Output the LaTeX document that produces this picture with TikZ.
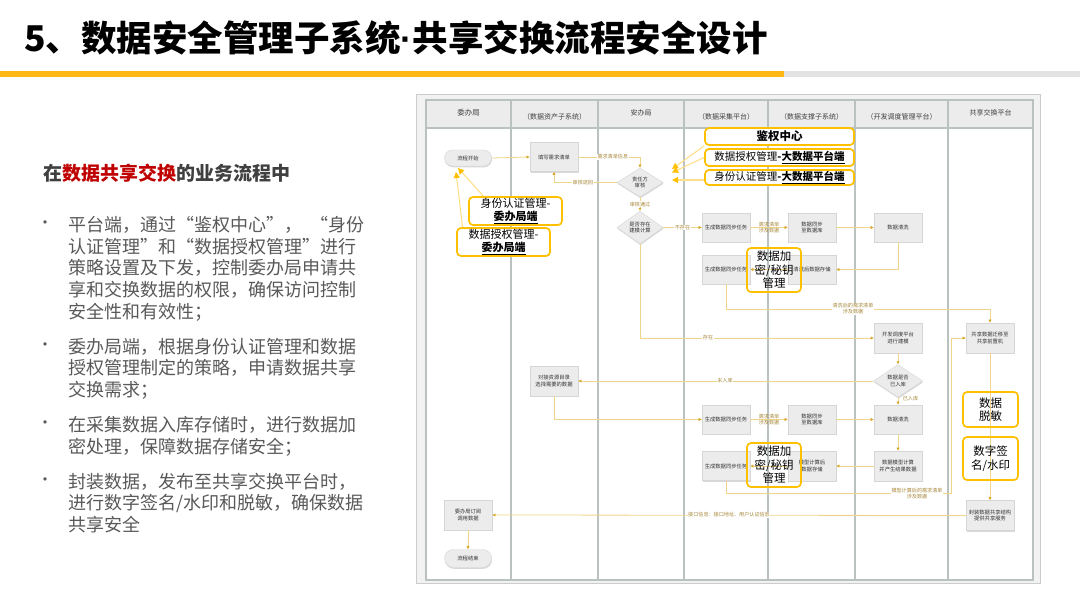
\documentclass[tikz,border=0pt]{standalone}
\usepackage{fontspec}
\setmainfont{Noto Sans CJK SC}
\newfontfamily\latinsans{Liberation Sans}
\usetikzlibrary{shapes.geometric,shapes.misc,arrows.meta,shadows}
\definecolor{barc}{HTML}{FDB913}
\definecolor{bargray}{HTML}{E3E3E3}
\definecolor{gold}{HTML}{FFC000}
\definecolor{callline}{HTML}{FFE08A}
\definecolor{connc}{HTML}{F0D48A}
\definecolor{arrc}{HTML}{D8A520}
\definecolor{labc}{HTML}{A8883A}
\definecolor{boxfill}{HTML}{ECECEC}
\definecolor{boxdraw}{HTML}{D6D6D6}
\definecolor{boxtext}{HTML}{333333}
\definecolor{lanec}{HTML}{B9C1C1}
\definecolor{hdrfill}{HTML}{ECECEC}
\definecolor{outerfill}{HTML}{F2F2F2}
\definecolor{redc}{HTML}{C00000}
\definecolor{headc}{HTML}{404040}
\definecolor{bodyc}{HTML}{595959}
\begin{document}
\begin{tikzpicture}[x=1pt,y=-1pt,
  box/.style={draw=boxdraw, fill=boxfill, minimum width=48pt, minimum height=29pt, inner sep=0.5pt, align=center,
    font=\fontsize{5.3}{6.6}\selectfont, text=boxtext,
    drop shadow={shadow xshift=0.5pt, shadow yshift=-1.3pt, fill=black!30}},
  pill/.style={box, rounded rectangle, minimum height=16pt},
  dia/.style={box, diamond, minimum width=46pt, minimum height=29pt, inner sep=0pt},
  conn/.style={draw=connc, line width=0.8pt, -{Latex[length=3.2pt,width=3.2pt,color=arrc]}},
  lab/.style={font=\fontsize{5.1}{6}\selectfont, text=labc, fill=white, inner sep=0.6pt, align=center},
  call/.style={draw=gold, line width=1.7pt, rounded corners=4pt, fill=white, align=center, inner sep=0pt, text=black},
  callt/.style={call, fill=none},
  callarr/.style={draw=callline, line width=1.1pt, -{Triangle[length=6pt,width=6pt,color=gold]}},
  lane/.style={draw=lanec, line width=1.5pt},
  hdr/.style={font=\fontsize{7}{8}\selectfont, text=black!75},
  body/.style={anchor=west, font=\fontsize{18}{21}\selectfont, text=bodyc, inner sep=0pt},
  bul/.style={anchor=center, font=\fontsize{16}{18}\selectfont, text=bodyc, inner sep=0pt}
]
\useasboundingbox (0,0) rectangle (1080,608);
\fill[white] (0,0) rectangle (1080,608);

% title
\node[anchor=west, inner sep=0pt, font=\fontsize{35.5}{40}\bfseries\selectfont, text=black] (title) at (24,38) {5、数据安全管理子系统{\latinsans\bfseries ·}共享交换流程安全设计};
\fill[barc] (0,71) rectangle (784,77);
\fill[bargray] (784,71) rectangle (1080,77);

% left text
\node[anchor=west, inner sep=0pt, font=\fontsize{19}{22}\bfseries\selectfont, text=headc] (heading) at (43,173)
  {在\textcolor{redc}{数据共享交换}的业务流程中};

\node[bul] (b1) at (45,225) {•};
\node[body] (p1l1) at (68,225) {平台端，通过“鉴权中心”，\hspace{8pt}“身份};
\node[body] (p1l2) at (68,247) {认证管理”和“数据授权管理”进行};
\node[body] (p1l3) at (68,268) {策略设置及下发，控制委办局申请共};
\node[body] (p1l4) at (68,290) {享和交换数据的权限，确保访问控制};
\node[body] (p1l5) at (68,312) {安全性和有效性；};
\node[bul] (b2) at (45,347) {•};
\node[body] (p2l1) at (68,347) {委办局端，根据身份认证管理和数据};
\node[body] (p2l2) at (68,368) {授权管理制定的策略，申请数据共享};
\node[body] (p2l3) at (68,390) {交换需求；};
\node[bul] (b3) at (45,425) {•};
\node[body] (p3l1) at (68,425) {在采集数据入库存储时，进行数据加};
\node[body] (p3l2) at (68,447) {密处理，保障数据存储安全；};
\node[bul] (b4) at (45,482) {•};
\node[body] (p4l1) at (68,482) {封装数据，发布至共享交换平台时，};
\node[body] (p4l2) at (68,503) {进行数字签名/水印和脱敏，确保数据};
\node[body] (p4l3) at (68,525) {共享安全};

% diagram frame
\filldraw[fill=outerfill, draw=black!20, line width=0.6pt] (416,94) rectangle (1040,583);
\filldraw[fill=white, draw=lanec, line width=1.2pt] (426,100) rectangle (1033,580);
\filldraw[fill=hdrfill, draw=lanec, line width=1.2pt] (426,100) rectangle (1033,128);
\foreach \xx in {511,598,684,768,855,948} {\draw[lane] (\xx,100) -- (\xx,580);}
\node[hdr, font=\fontsize{7.5}{8}\selectfont] (h1) at (468.5,113) {委办局};
\node[hdr] (h2) at (554.5,117) {（数据资产子系统）};
\node[hdr] (h3) at (641,113) {安办局};
\node[hdr] (h4) at (726,117) {（数据采集平台）};
\node[hdr] (h5) at (811.5,117) {（数据支撑子系统）};
\node[hdr] (h6) at (901.5,117) {（开发调度管理平台）};
\node[hdr] (h7) at (990.5,113) {共享交换平台};

% nodes
\node[pill] (start) at (468,158) {流程开始};
\node[box] (fill) at (554,157) {填写需求清单};
\node[dia] (d1) at (640,182.5) {责任方\\审核};
\node[dia, minimum height=31pt] (d2) at (640,227.5) {是否存在\\建模计算};
\node[box] (g1) at (726,227.5) {生成数据同步任务};
\node[box] (s1) at (812,227.5) {数据同步\\至数据库};
\node[box] (c1) at (898,227.5) {数据清洗};
\node[box] (st1) at (812,269.5) {清洗后数据存储};
\node[box] (g2) at (726,269.5) {生成数据同步任务};
\node[box, minimum height=30pt] (m) at (898,338) {开发调度平台\\进行建模};
\node[box, minimum height=30pt] (sh) at (990,338) {共享数据迁移至\\共享前置机};
\node[dia, minimum width=49pt, minimum height=28pt] (d3) at (898,381) {数据是否\\已入库};
\node[box, minimum height=30pt] (r) at (554,381) {对接资源目录\\选择需要的数据};
\node[box] (g3) at (726,419.5) {生成数据同步任务};
\node[box] (s3) at (812,419.5) {数据同步\\至数据库};
\node[box] (c3) at (898,419.5) {数据清洗};
\node[box, minimum height=30pt] (mc) at (898,466) {数据模型计算\\并产生结果数据};
\node[box, minimum height=30pt] (ms) at (812,466) {模型计算后\\数据存储};
\node[box] (g4) at (726,466) {生成数据同步任务};
\node[box, minimum height=30pt] (pk) at (990,515.5) {封装数据共享结构\\提供共享服务};
\node[box, minimum height=30pt] (sub) at (468,515) {委办局订阅\\调用数据};
\node[pill, minimum height=18pt] (end) at (468,558.5) {流程结束};

% connectors
\draw[conn] (start.east) -- (fill.west);
\draw[conn] (fill.east) -| (d1.north) node[lab, pos=0.28] {需求清单信息};
\draw[conn] (d1.west) -| (fill.south) node[lab, pos=0.27] {审核退回};
\draw[conn] (d1.south) -- (d2.north) node[lab, midway] {审核通过};
\draw[conn] (d2.east) -- (g1.west) node[lab, midway] {不存在};
\draw[conn] (g1.east) -- (s1.west) node[lab, midway, fill=none] {需求清单\\涉及数据};
\draw[conn] (s1.east) -- (c1.west);
\draw[conn] (c1.south) |- (st1.east);
\draw[conn] (st1.west) -- (g2.east);
\draw[conn] (g2.south) -- ++(0,25) -| (sh.north);
\node[lab] (l1) at (853,309) {清洗后的需求清单\\涉及数据};
\draw[conn] (d2.south) |- (m.west);
\node[lab] (l2) at (708,338) {存在};
\draw[conn] (m.south) -- (d3.north);
\draw[conn] (d3.west) -- (r.east);
\node[lab] (l3) at (725,381) {未入库};
\draw[conn] (d3.south) -- (c3.north);
\node[lab, anchor=west, fill=none] (l4) at (902,399) {已入库};
\draw[conn] (r.south) |- (g3.west);
\draw[conn] (g3.east) -- (s3.west) node[lab, midway, fill=none] {需求清单\\涉及数据};
\draw[conn] (s3.east) -- (c3.west);
\draw[conn] (c3.south) -- (mc.north);
\draw[conn] (mc.west) -- (ms.east);
\draw[conn] (ms.west) -- (g4.east);
\draw[conn] (g4.south) -- ++(0,13) -| ([xshift=-14pt]sh.west) -- (sh.west);
\node[lab] (l5) at (917,494) {模型计算后的需求清单\\涉及数据};
\draw[conn] (sh.south) -- (pk.north);
\draw[conn] (pk.west) -- (sub.east);
\node[lab] (l6) at (729,515) {接口信息：接口地址、用户认证信息};
\draw[conn] (sub.south) -- (end.north);

% callouts
\node[call, minimum width=149pt, minimum height=17pt, font=\fontsize{11.5}{13}\bfseries\selectfont] (jq) at (779.5,136.5) {鉴权中心};
\node[call, minimum width=149pt, minimum height=17pt, font=\fontsize{10.5}{12}\selectfont] (sq) at (779.5,157.5) {数据授权管理\textbf{-\underline{大数据平台端}}};
\node[call, minimum width=149pt, minimum height=15pt, font=\fontsize{10.5}{12}\selectfont] (sf) at (779.5,177.5) {身份认证管理\textbf{-\underline{大数据平台端}}};
\coordinate (t1) at (672,169);
\coordinate (t2) at (672,172.5);
\coordinate (t3) at (672,180);
\draw[callarr] (jq.south west) -- (t1);
\draw[callarr] (sq.west) -- (t2);
\draw[callarr] ([yshift=-2.5pt]sf.west) -- (t3);

\node[call, minimum width=93pt, minimum height=28pt, font=\fontsize{11}{13}\selectfont] (sfw) at (515.5,211) {身份认证管理-\\\textbf{\underline{委办局端}}};
\node[call, minimum width=93pt, minimum height=28pt, font=\fontsize{11}{13}\selectfont] (sqw) at (503.5,242) {数据授权管理-\\\textbf{\underline{委办局端}}};
\coordinate (t4) at (458,168);
\coordinate (t5) at (456,172);
\draw[callarr] ([xshift=-32pt]sfw.north) -- (t4);
\draw[callarr] ([xshift=-41pt]sqw.north) -- (t5);

\node[callt, minimum width=54pt, minimum height=44pt, font=\fontsize{11.5}{13.5}\selectfont] (enc1) at (774,270) {数据加\\密/秘钥\\管理};
\node[callt, minimum width=54pt, minimum height=44pt, font=\fontsize{11.5}{13.5}\selectfont] (enc2) at (774,465) {数据加\\密/秘钥\\管理};
\node[callt, minimum width=55pt, minimum height=35pt, font=\fontsize{11.5}{13.5}\selectfont] (tm) at (990.5,409.5) {数据\\脱敏};
\node[callt, minimum width=55pt, minimum height=43pt, font=\fontsize{11.5}{13.5}\selectfont] (sig) at (990.5,458.5) {数字签\\名/水印};
\end{tikzpicture}
\end{document}
